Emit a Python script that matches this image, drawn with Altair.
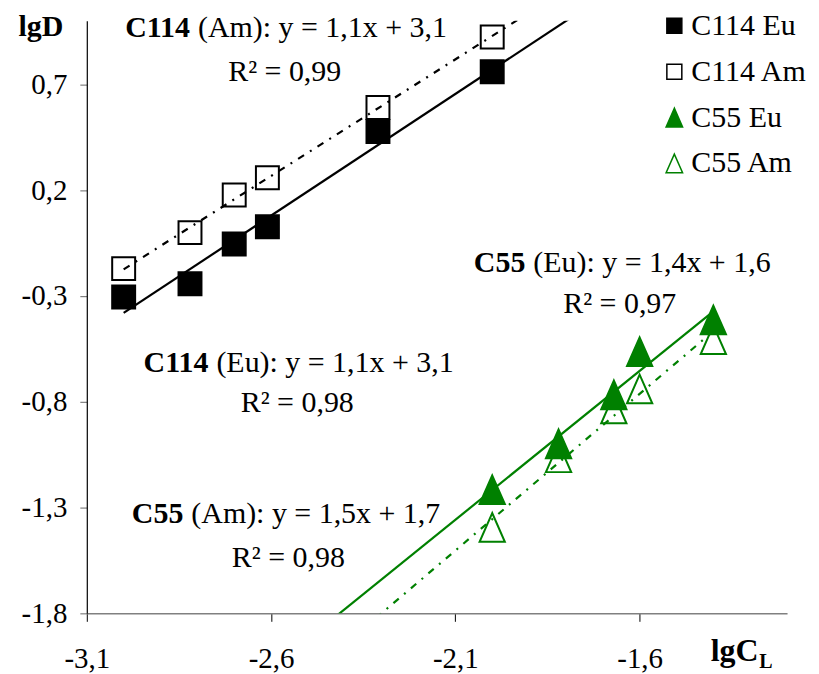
import altair as alt
import pandas as pd

# ---- data ----
series_names = ["C114 Eu", "C114 Am", "C55 Eu", "C55 Am"]

c114_x = [-3.00, -2.82, -2.70, -2.61, -2.31, -2.00]
c114_eu = [-0.305, -0.243, -0.055, 0.027, 0.477, 0.759]
c114_am = [-0.171, -0.001, 0.177, 0.258, 0.590, 0.923]

c55_x = [-2.00, -1.82, -1.67, -1.60, -1.40]
c55_eu = [-1.216, -0.999, -0.768, -0.564, -0.414]
c55_am = [-1.394, -1.065, -0.834, -0.740, -0.507]

x_ticks = [-3.1, -2.6, -2.1, -1.6]
y_ticks = [-1.8, -1.3, -0.8, -0.3, 0.2, 0.7]

# annotation anchors (data units) : bold part, rest, R² line
ann_bold = ["C114", "C114", "C55", "C55"]
ann_rest = ["(Am): y = 1,1x + 3,1", "(Eu): y = 1,1x + 3,1",
            "(Eu): y = 1,4x + 1,6", "(Am): y = 1,5x + 1,7"]
ann_r2 = ["R² = 0,99", "R² = 0,98", "R² = 0,97", "R² = 0,98"]
ann_x = [-2.820, -2.770, -1.910, -2.838]
ann_y = [0.925, -0.660, -0.188, -1.372]
r2_x = [-2.563, -2.529, -1.654, -2.553]
r2_y = [0.717, -0.848, -0.381, -1.579]

FONT = "Liberation Serif"
GREEN = "#008000"
TRI = "M0,-1.25L-1.1,1.25L1.1,1.25Z"

# ---- tables ----
rows = []
for xs, ys, name in [(c114_x, c114_am, "C114 Am"), (c114_x, c114_eu, "C114 Eu"),
                     (c55_x, c55_am, "C55 Am"), (c55_x, c55_eu, "C55 Eu")]:
    for a, b in zip(xs, ys):
        rows.append({"x": a, "y": b, "series": name})
pts = pd.DataFrame(rows)

ann = pd.DataFrame({"x": ann_x, "y": ann_y, "bold": ann_bold, "rest": ann_rest})
r2 = pd.DataFrame({"x": r2_x, "y": r2_y, "t": ann_r2})

lbl = "replace(replace(format(datum.value, '.1f'), '.', ','), '\u2212', '-')"

X = alt.X("x:Q",
          scale=alt.Scale(domain=[-3.1, -1.2], nice=False, zero=False),
          axis=alt.Axis(values=x_ticks, labelExpr=lbl, grid=False,
                        title="lgC", titleX=625, titleY=47, titleAlign="left",
                        titleBaseline="alphabetic", titleFont=FONT, titleFontSize=32,
                        titleFontWeight="bold", titleColor="black",
                        domainColor="#808080", domainWidth=1.5,
                        tickColor="black", tickSize=8, tickWidth=1,
                        labelFont=FONT, labelFontSize=29, labelColor="black",
                        labelPadding=46, labelBaseline="alphabetic",
                        labelFlush=False, labelOverlap=False))
Y = alt.Y("y:Q",
          scale=alt.Scale(domain=[-1.8, 1.0], nice=False, zero=False),
          axis=alt.Axis(values=y_ticks, labelExpr=lbl, grid=False,
                        title="lgD", titleAngle=0, titleX=-69, titleY=15,
                        titleAlign="left", titleBaseline="alphabetic",
                        titleFont=FONT, titleFontSize=30, titleFontWeight="bold",
                        titleColor="black",
                        domainColor="black", domainWidth=1.2,
                        tickColor="#808080", tickSize=7, tickWidth=1.2,
                        labelFont=FONT, labelFontSize=29, labelColor="black",
                        labelPadding=13, labelFlush=False, labelOverlap=False))

leg = alt.Legend(title=None)
points = alt.Chart(pts).mark_point(size=529, strokeWidth=2, opacity=1, filled=False).encode(
    x=X, y=Y,
    shape=alt.Shape("series:N", scale=alt.Scale(domain=series_names,
                    range=["square", "square", TRI, TRI]), legend=leg),
    color=alt.Color("series:N", scale=alt.Scale(domain=series_names,
                    range=["black", "black", GREEN, GREEN]), legend=leg),
    fill=alt.Fill("series:N", scale=alt.Scale(domain=series_names,
                  range=["black", "transparent", GREEN, "transparent"]), legend=leg),
)

def trend(name, extent, color, dash):
    m = dict(clip=True, color=color, strokeWidth=2.2)
    if dash:
        m["strokeDash"] = [7, 7, 2, 7]
    return (alt.Chart(pts).transform_filter(alt.datum.series == name)
            .transform_regression("x", "y", extent=extent)
            .mark_line(**m).encode(x=X, y=Y))

ext114 = [min(c114_x), -1.5]
ext55 = [min(c55_x) - 0.6, max(c55_x)]
lines = [trend("C114 Eu", ext114, "black", False),
         trend("C114 Am", ext114, "black", True),
         trend("C55 Eu", ext55, GREEN, False),
         trend("C55 Am", ext55, GREEN, True)]

bold_txt = alt.Chart(ann).mark_text(font=FONT, fontSize=30, fontWeight="bold",
                                    align="right", baseline="alphabetic",
                                    color="black").encode(x=X, y=Y, text="bold:N")
rest_txt = alt.Chart(ann).mark_text(font=FONT, fontSize=30, align="left", dx=8,
                                    baseline="alphabetic",
                                    color="black").encode(x=X, y=Y, text="rest:N")
r2_txt = alt.Chart(r2).mark_text(font=FONT, fontSize=30, align="center",
                                 baseline="alphabetic",
                                 color="black").encode(x=X, y=Y, text="t:N")
sub_txt = alt.Chart(pd.DataFrame({"t": ["L"]})).mark_text(
    font=FONT, fontSize=20, fontWeight="bold", align="left", baseline="alphabetic",
    color="black").encode(x=alt.value(674), y=alt.value(649), text="t:N")

chart = alt.layer(*lines, points, bold_txt, rest_txt, r2_txt, sub_txt).properties(
    width=702, height=594,
    padding={"left": 79, "top": 12, "right": 24, "bottom": 60},
    autosize=alt.AutoSizeParams(type="none"),
    background="white",
).configure_view(stroke=None).configure_legend(
    orient="none", legendX=574, legendY=-10, padding=0,
    labelFont=FONT, labelFontSize=30, labelColor="black",
    symbolSize=225, symbolStrokeWidth=1.5, rowPadding=16, labelOffset=2,
)

chart.save("out.html", embed_options={"renderer": "svg", "actions": False})
